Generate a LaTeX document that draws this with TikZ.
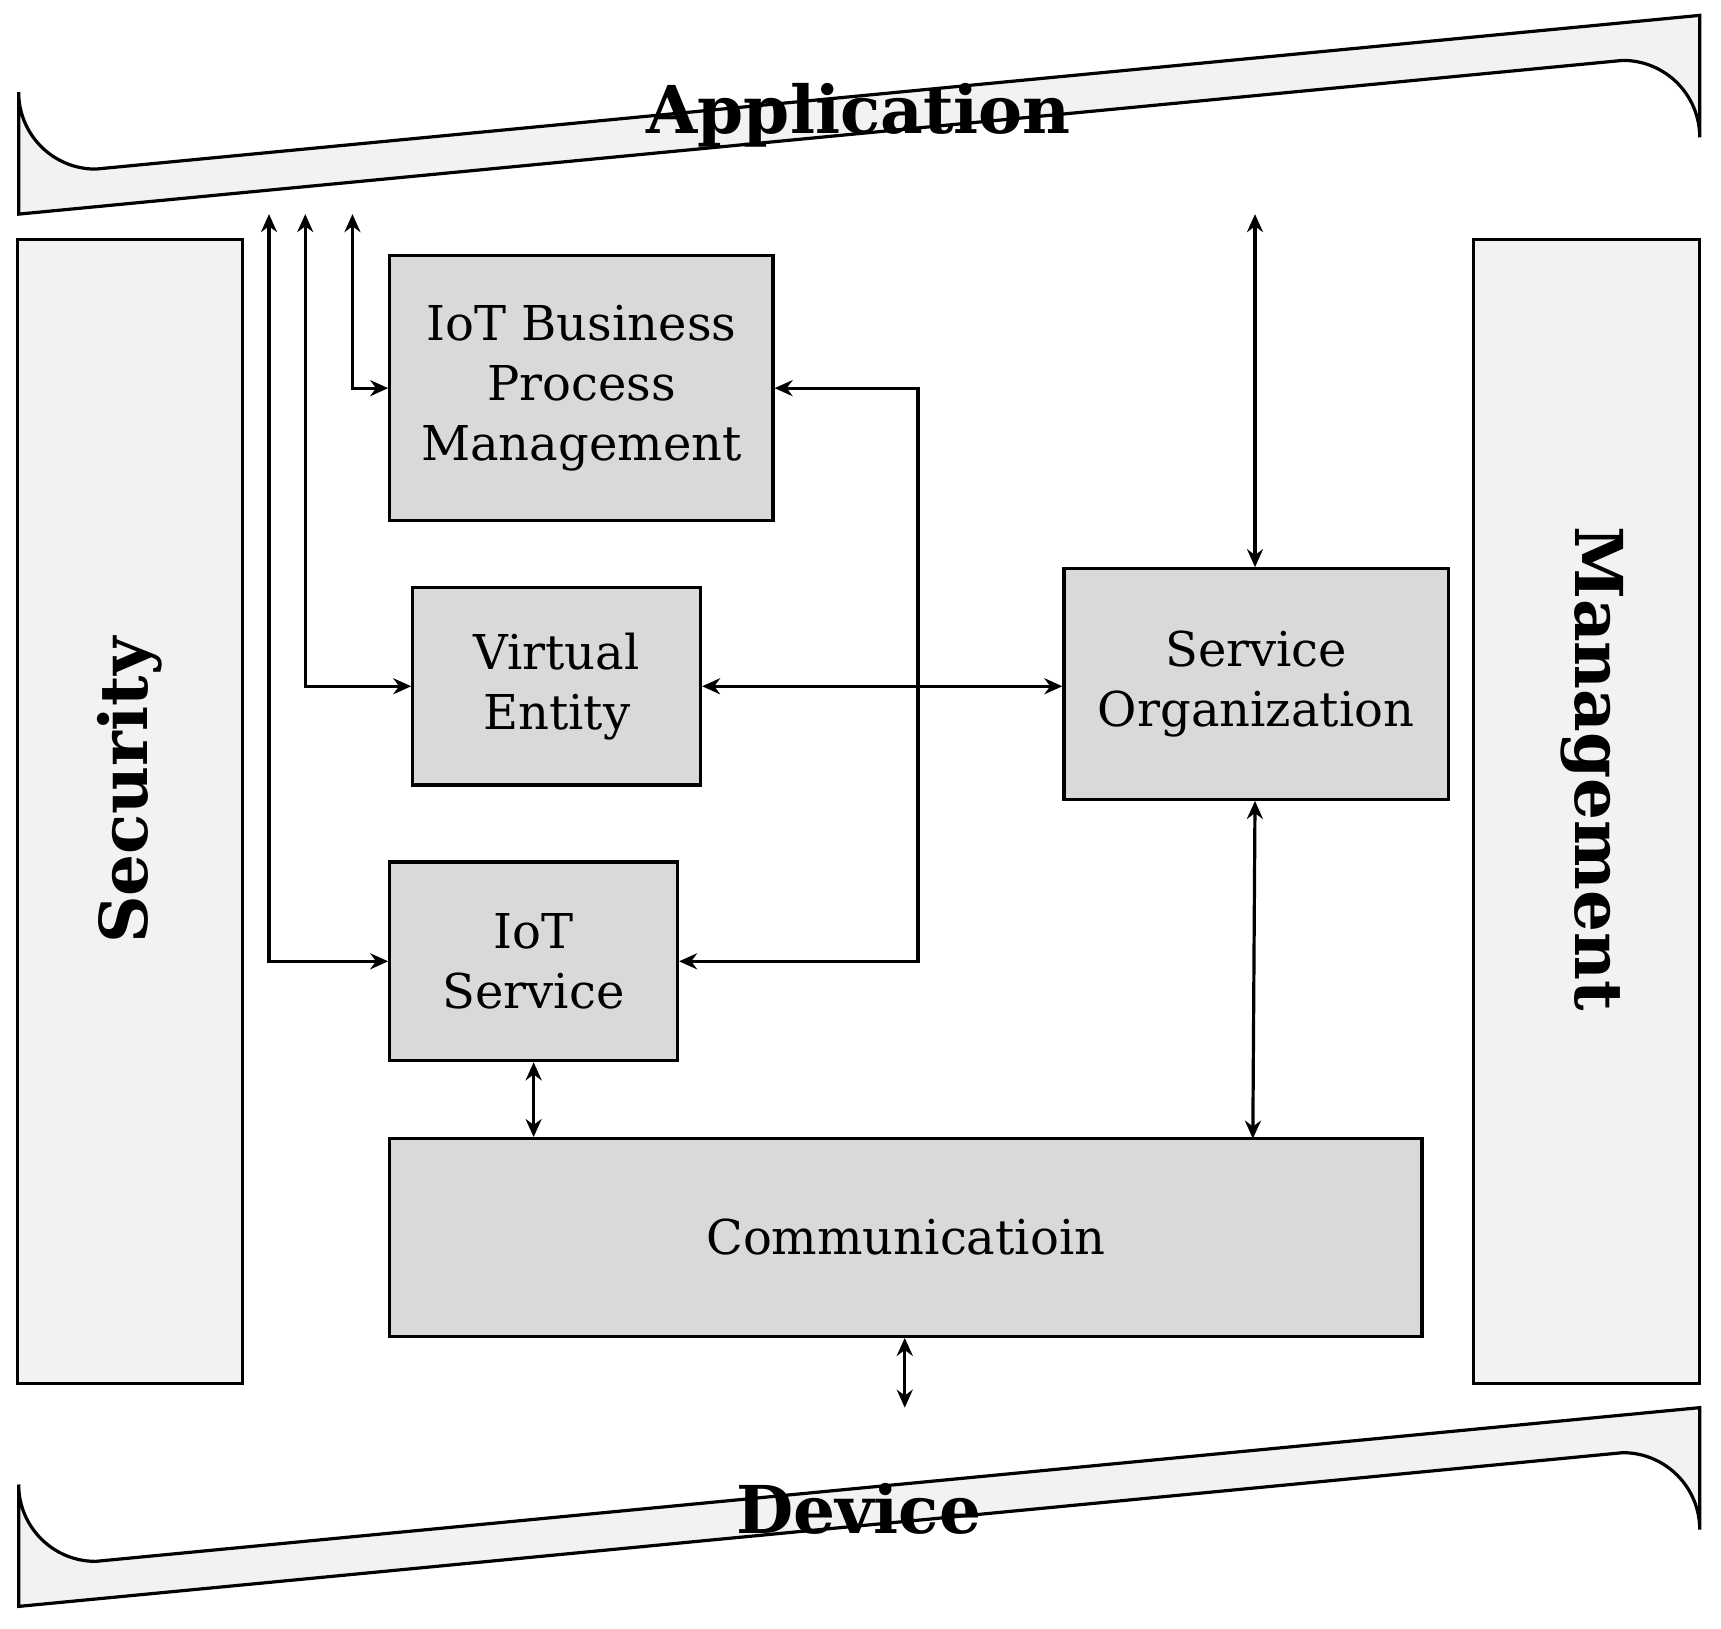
\documentclass[tikz,border=0pt]{standalone}
\usepackage{fontspec}
\setmainfont{DejaVu Serif}
\usetikzlibrary{arrows.meta}
\definecolor{outer}{HTML}{F2F2F2}
\definecolor{inner}{HTML}{D9D9D9}
\begin{document}
\begin{tikzpicture}[x=0.549pt,y=-0.549pt,
  ln/.style={line width=1.6pt},
  outerbox/.style={ln,fill=outer},
  box/.style={ln,draw,fill=inner,inner sep=0pt,align=center,font=\fontsize{24}{30}\selectfont},
  arr/.style={ln,{Stealth[length=9pt,width=8pt]}-{Stealth[length=9pt,width=8pt]}},
  arr1/.style={ln,-{Stealth[length=9pt,width=8pt]}},
  big/.style={font=\fontsize{33}{36}\selectfont\bfseries}]
\useasboundingbox (0,0) rectangle (1567.4,1483.6);
% application
\draw[outerbox] (17,195) -- (17,84) arc[start angle=180,end angle=90,radius=70] -- (1548,14) -- (1548,125) arc[start angle=0,end angle=-90,radius=70] -- cycle;
\node[big] (app) at (782,105) {Application};
\draw[outerbox] (17,1463) -- (17,1352) arc[start angle=180,end angle=90,radius=70] -- (1548,1282) -- (1548,1393) arc[start angle=0,end angle=-90,radius=70] -- cycle;
\node[big] (dev) at (782,1374) {Device};
\draw[outerbox] (16,218) rectangle (221,1260);
\node[big,rotate=90] (sec) at (118,720) {Security};
\draw[outerbox] (1342,218) rectangle (1548,1260);
\node[big,rotate=-90] (man) at (1450,700) {Management};
\coordinate (appB) at (0,195);
% inner boxes
\node[box,minimum width=349*0.549pt,minimum height=241*0.549pt] (bpm) at (529.5,353.5) {IoT Business\\Process\\Management};
\node[box,minimum width=262*0.549pt,minimum height=180*0.549pt] (ve) at (507,625) {Virtual\\Entity};
\node[box,minimum width=262*0.549pt,minimum height=181*0.549pt] (ios) at (486,875.5) {IoT\\Service};
\node[box,minimum width=350*0.549pt,minimum height=210*0.549pt] (so) at (1144,623) {Service\\Organization};
\node[box,minimum width=940*0.549pt,minimum height=180*0.549pt] (com) at (825,1127) {Communicatioin};
\coordinate (a1) at (245,195);
\coordinate (a2) at (278,195);
\coordinate (a3) at (321,195);
\coordinate (a4) at (1143,195);
\coordinate (d1) at (824,1282);
% arrows
\draw[arr] (a1) |- (ios.west);
\draw[arr] (a2) |- (ve.west);
\draw[arr] (a3) |- (bpm.west);
\draw[arr] (bpm.east) -- (836,353.5) |- (ios.east);
\draw[arr] (ve.east) -- (ve.east -| so.west);
\draw[arr] (a4) -- (a4 |- so.north);
\draw[arr] (so.south -| 1143,0) -- (1141,1037);
\draw[arr] (ios.south) -- (ios.south |- com.north);
\draw[arr] (com.south -| d1) -- (d1);
\end{tikzpicture}
\end{document}
